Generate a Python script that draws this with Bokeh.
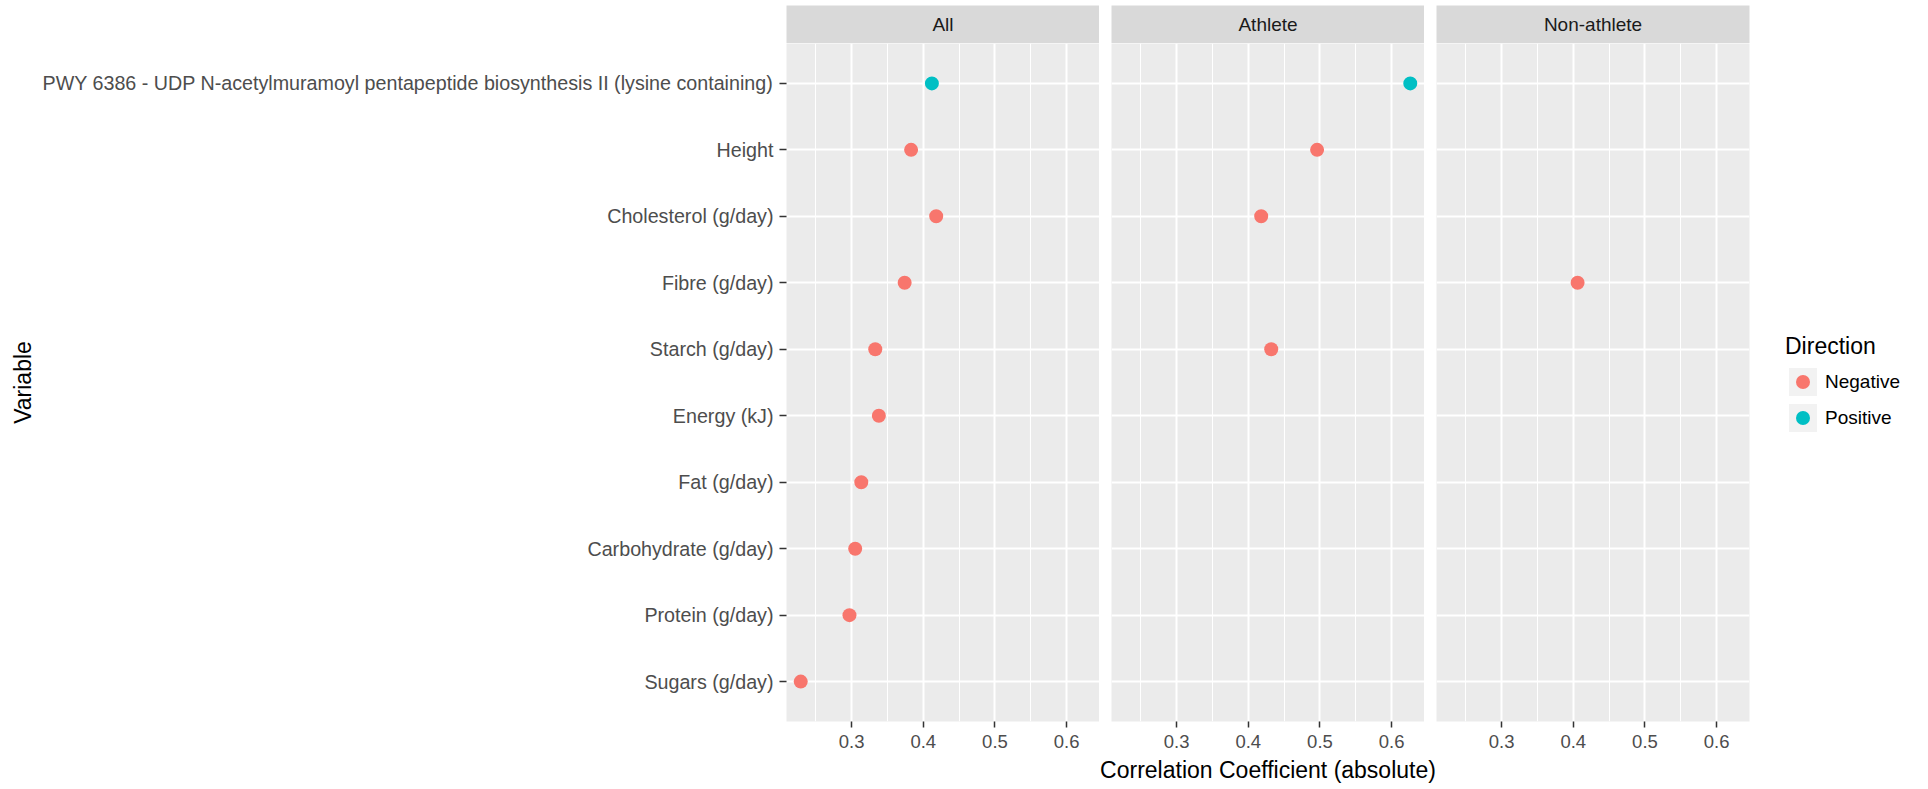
import math
from bokeh.plotting import figure
from bokeh.models import (FactorRange, Range1d, FixedTicker, Legend, LegendItem)
from bokeh.layouts import row, column
from bokeh.embed import file_html
from bokeh.resources import INLINE
from bokeh.core.properties import value

# ---------------- data ----------------
facets = ["All", "Athlete", "Non-athlete"]

# y categories, listed bottom to top
variables = [
    "Sugars (g/day)",
    "Protein (g/day)",
    "Carbohydrate (g/day)",
    "Fat (g/day)",
    "Energy (kJ)",
    "Starch (g/day)",
    "Fibre (g/day)",
    "Cholesterol (g/day)",
    "Height",
    "PWY 6386 - UDP N-acetylmuramoyl pentapeptide biosynthesis II (lysine containing)",
]

directions = ["Negative", "Positive"]
direction_colors = ["#F8766D", "#00BFC4"]

all_variables = variables
all_values = [0.229, 0.297, 0.305, 0.3135, 0.338, 0.333, 0.374, 0.418, 0.383, 0.412]
all_direction = ["Negative", "Negative", "Negative", "Negative", "Negative",
                 "Negative", "Negative", "Negative", "Negative", "Positive"]

athlete_variables = [
    "PWY 6386 - UDP N-acetylmuramoyl pentapeptide biosynthesis II (lysine containing)",
    "Height",
    "Cholesterol (g/day)",
    "Starch (g/day)",
]
athlete_values = [0.626, 0.496, 0.418, 0.432]
athlete_direction = ["Positive", "Negative", "Negative", "Negative"]

nonathlete_variables = ["Fibre (g/day)"]
nonathlete_values = [0.406]
nonathlete_direction = ["Negative"]

x_ticks = [0.3, 0.4, 0.5, 0.6]
x_tick_labels = ["0.3", "0.4", "0.5", "0.6"]
x_minor_ticks = [0.25, 0.35, 0.45, 0.55]

x_title = "Correlation Coefficient (absolute)"
y_title = "Variable"
legend_title = "Direction"

# ---------------- style ----------------
FONT = "Liberation Sans"
FW = 313
FH = 678
STRIP_H = 38
GAP = 12
LEFT = 786
PANEL_BG = "#EBEBEB"
STRIP_BG = "#D9D9D9"
KEY_BG = "#F2F2F2"

panel_data = [
    (all_variables, all_values, all_direction),
    (athlete_variables, athlete_values, athlete_direction),
    (nonathlete_variables, nonathlete_values, nonathlete_direction),
]

every = all_values + athlete_values + nonathlete_values
lo, hi = min(every), max(every)
pad = 0.05 * (hi - lo)
x_range = Range1d(lo - pad, hi + pad)
y_range = FactorRange(factors=variables, range_padding=0.1, range_padding_units="absolute")

lefts = [LEFT, GAP, GAP]
rights = [0, 0, 165]


def make_strip(name, left, right):
    s = figure(frame_width=FW, frame_height=STRIP_H,
               x_range=FactorRange(factors=[name]), y_range=Range1d(0, 1),
               min_border_left=left, min_border_right=right,
               min_border_top=5, min_border_bottom=0,
               x_axis_location=None, y_axis_location=None, title=None,
               toolbar_location=None, output_backend="svg",
               background_fill_color=STRIP_BG, border_fill_color="white",
               outline_line_color=None)
    s.grid.visible = False
    s.text(x=[name], y=[0.5], text=[name], text_align="center",
           text_baseline="middle", text_font=value(FONT),
           text_font_size="19px", text_color="#1A1A1A")
    return s


def make_panel(idx, left, right):
    p = figure(frame_width=FW, frame_height=FH, x_range=x_range, y_range=y_range,
               min_border_left=left, min_border_right=right,
               min_border_top=0, min_border_bottom=35, title=None,
               toolbar_location=None, output_backend="svg",
               background_fill_color=PANEL_BG, border_fill_color="white",
               outline_line_color=None)
    # x axis
    xa = p.xaxis[0]
    xa.ticker = FixedTicker(ticks=x_ticks, minor_ticks=x_minor_ticks)
    xa.major_label_overrides = {t: l for t, l in zip(x_ticks, x_tick_labels)}
    xa.axis_line_color = None
    xa.major_tick_out = 6
    xa.major_tick_in = 0
    xa.major_tick_line_color = "#333333"
    xa.major_tick_line_width = 1.5
    xa.minor_tick_line_color = None
    xa.major_label_text_font = FONT
    xa.major_label_text_font_size = "18.5px"
    xa.major_label_text_color = "#4D4D4D"
    xa.major_label_standoff = 7
    # y axis
    ya = p.yaxis[0]
    if idx == 0:
        ya.axis_line_color = None
        ya.major_tick_out = 7
        ya.major_tick_in = 0
        ya.major_tick_line_color = "#333333"
        ya.major_tick_line_width = 1.5
        ya.minor_tick_line_color = None
        ya.major_label_text_font = FONT
        ya.major_label_text_font_size = "19.7px"
        ya.major_label_text_color = "#4D4D4D"
        ya.major_label_standoff = 6
        ya.axis_label = y_title
        ya.axis_label_text_font = FONT
        ya.axis_label_text_font_size = "23px"
        ya.axis_label_text_font_style = "normal"
        ya.axis_label_text_color = "black"
        ya.axis_label_standoff = 4
    else:
        ya.visible = False
    # grids
    p.xgrid.grid_line_color = "white"
    p.xgrid.grid_line_width = 2
    p.xgrid.minor_grid_line_color = "white"
    p.xgrid.minor_grid_line_width = 1.1
    p.ygrid.grid_line_color = "white"
    p.ygrid.grid_line_width = 2
    # points
    vars_, vals, dirs = panel_data[idx]
    for d, c in zip(directions, direction_colors):
        xs = [v for v, dd in zip(vals, dirs) if dd == d]
        ys = [v for v, dd in zip(vars_, dirs) if dd == d]
        p.scatter(x=xs, y=ys, size=14, fill_color=c, line_color=None)
    return p


cols = []
panels = []
for i, f in enumerate(facets):
    s = make_strip(f, lefts[i], rights[i])
    p = make_panel(i, lefts[i], rights[i])
    panels.append(p)
    cols.append(column(s, p, spacing=0))

# legend on last panel
p3 = panels[2]
nan = float("nan")
items = []
for d, c in zip(directions, direction_colors):
    bg = p3.quad(left=[nan], right=[nan], top=[nan], bottom=[nan],
                 fill_color=KEY_BG, line_color=None)
    dot = p3.scatter(x=[nan], y=[nan], size=14, fill_color=c, line_color=None)
    items.append(LegendItem(label=d, renderers=[bg, dot]))

legend = Legend(items=items, title=legend_title, location=(36, 286),
                orientation="vertical", glyph_width=35, glyph_height=35,
                label_height=35, spacing=1, padding=0, margin=0,
                label_standoff=5, title_standoff=4,
                label_text_font=FONT, label_text_font_size="19px",
                label_text_color="black", label_text_baseline="middle",
                title_text_font=FONT, title_text_font_size="23px",
                title_text_font_style="normal", title_text_color="black",
                background_fill_alpha=0, border_line_color=None)
p3.add_layout(legend, "right")

# x-axis title spanning all three panels
tfig = figure(frame_width=3 * FW + 2 * GAP, frame_height=31,
              x_range=Range1d(0, 1), y_range=Range1d(0, 1),
              min_border_left=LEFT, min_border_right=0,
              min_border_top=0, min_border_bottom=0,
              x_axis_location=None, y_axis_location=None, title=None,
              toolbar_location=None, output_backend="svg",
              background_fill_color="white", border_fill_color="white",
              outline_line_color=None)
tfig.grid.visible = False
tfig.text(x=[0.5], y=[0.55], text=[x_title], text_align="center",
          text_baseline="middle", text_font=value(FONT),
          text_font_size="23px", text_color="black")

layout = column(row(*cols, spacing=0), tfig, spacing=0)

open("out.html", "w").write(file_html(layout, INLINE))
